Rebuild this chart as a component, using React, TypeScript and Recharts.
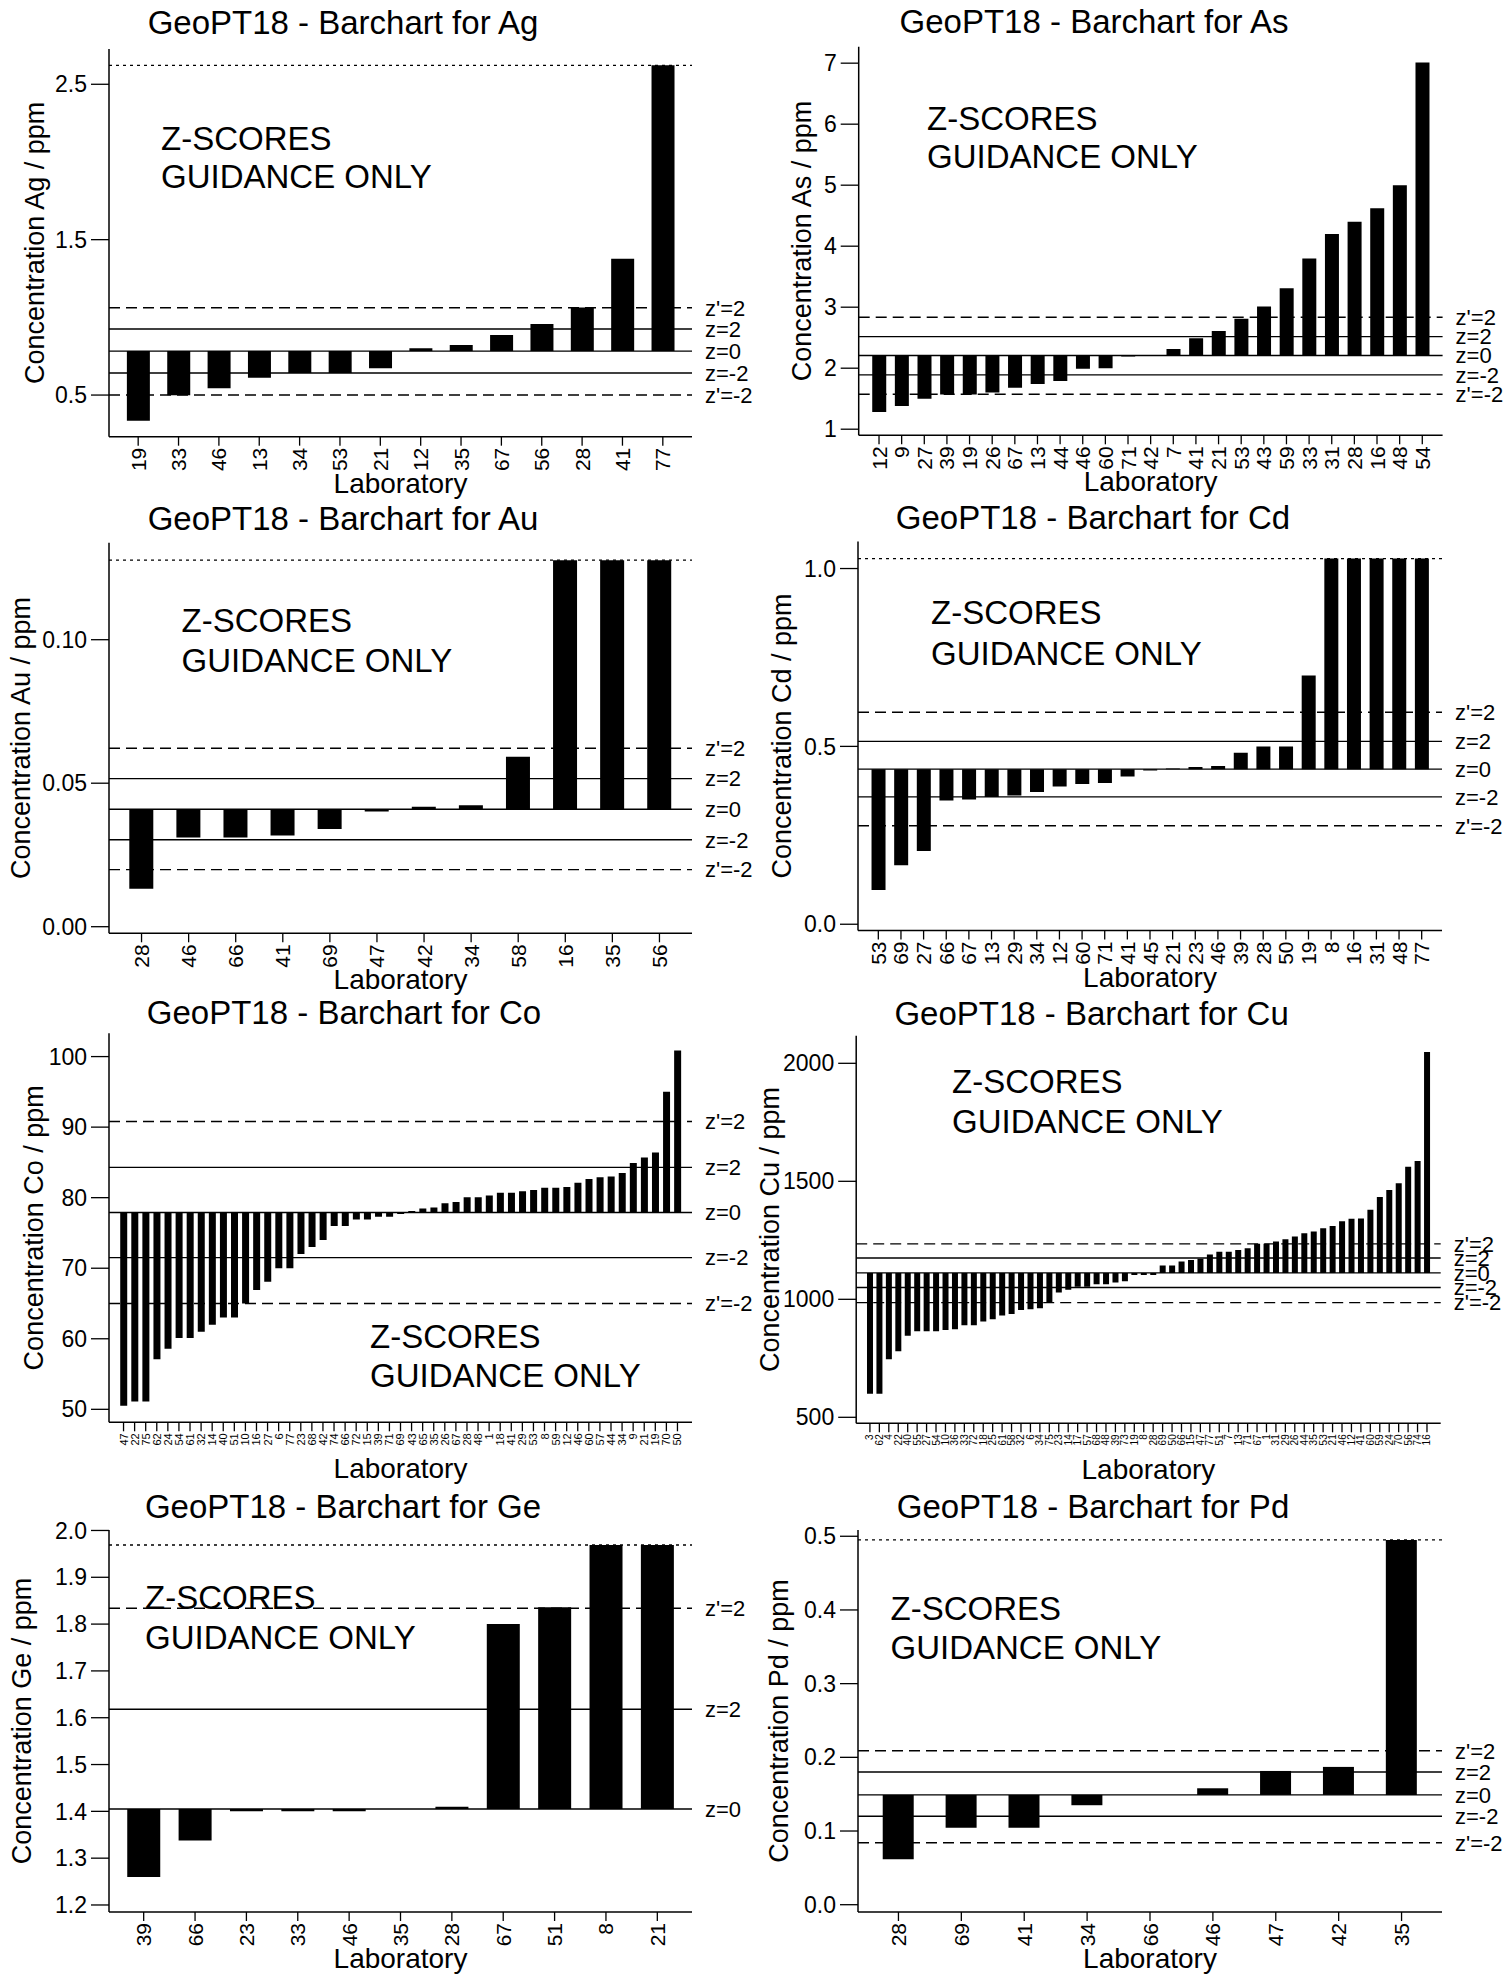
import React from 'react';
import { BarChart, Bar, XAxis, YAxis, ReferenceLine } from 'recharts';

// ---------- data ----------
const agLabs = ['19', '33', '46', '13', '34', '53', '21', '12', '35', '67', '56', '28', '41', '77'];
const agVals = [0.335, 0.498, 0.543, 0.611, 0.642, 0.642, 0.672, 0.801, 0.822, 0.886, 0.957, 1.064, 1.377, 2.622];
const agZ = [0.5, 0.642, 0.783, 0.925, 1.062];
const agTicks = [0.5, 1.5, 2.5];

const asLabs = ['12', '9', '27', '39', '19', '26', '67', '13', '44', '46', '60', '71', '42', '7', '41', '21', '53', '43', '59', '33', '31', '28', '16', '48', '54'];
const asVals = [1.28, 1.38, 1.5, 1.57, 1.57, 1.6, 1.68, 1.74, 1.79, 1.99, 2.0, 2.19, 2.205, 2.316, 2.49, 2.61, 2.81, 3.01, 3.31, 3.8, 4.2, 4.4, 4.62, 5.0, 7.01];
const asZ = [1.574, 1.89, 2.207, 2.518, 2.836];
const asTicks = [1, 2, 3, 4, 5, 6, 7];

const auLabs = ['28', '46', '66', '41', '69', '47', '42', '34', '58', '16', '35', '56'];
const auVals = [0.0132, 0.0311, 0.0311, 0.0318, 0.034, 0.0401, 0.0418, 0.0423, 0.0592, 0.1277, 0.1277, 0.1277];
const auZ = [0.0199, 0.0303, 0.0409, 0.0516, 0.0622];
const auTicks = [0, 0.05, 0.1];

const cdLabs = ['53', '69', '27', '66', '67', '13', '29', '34', '12', '60', '71', '41', '45', '21', '23', '46', '39', '28', '50', '19', '8', '16', '31', '48', '77'];
const cdVals = [0.096, 0.166, 0.206, 0.348, 0.351, 0.358, 0.362, 0.372, 0.387, 0.394, 0.397, 0.415, 0.432, 0.438, 0.442, 0.445, 0.482, 0.5, 0.5, 0.699, 1.028, 1.028, 1.028, 1.028, 1.028];
const cdZ = [0.277, 0.358, 0.436, 0.514, 0.596];
const cdTicks = [0, 0.5, 1.0];

const coLabs = ['47', '22', '75', '62', '24', '54', '61', '32', '14', '40', '51', '10', '16', '27', '6', '77', '23', '68', '42', '74', '66', '72', '15', '39', '71', '69', '43', '65', '35', '26', '67', '28', '48', '1', '18', '41', '29', '53', '8', '59', '12', '46', '60', '57', '44', '34', '9', '21', '19', '70', '50'];
const coVals = [50.5, 51.1, 51.1, 57.1, 58.6, 60.1, 60.1, 61.0, 62.0, 63.0, 63.0, 65.0, 66.9, 68.1, 70.0, 70.0, 72.0, 73.0, 74.0, 76.0, 76.0, 76.9, 76.9, 77.3, 77.3, 77.7, 78.1, 78.45, 78.6, 79.2, 79.4, 80.05, 80.05, 80.3, 80.7, 80.7, 80.9, 81.1, 81.4, 81.4, 81.5, 82.1, 82.65, 82.9, 83.0, 83.5, 84.9, 85.7, 86.4, 95.0, 100.85];
const coZ = [65.0, 71.5, 77.9, 84.3, 90.8];
const coTicks = [50, 60, 70, 80, 90, 100];

const cuLabs = ['3', '62', '4', '22', '40', '55', '27', '54', '10', '36', '33', '72', '18', '25', '61', '58', '32', '6', '34', '75', '23', '14', '17', '57', '68', '48', '39', '73', '19', '8', '28', '69', '50', '66', '15', '47', '77', '51', '7', '13', '71', '67', '1', '31', '29', '26', '44', '35', '53', '21', '46', '12', '41', '60', '59', '24', '70', '56', '74', '16'];
const cuVals = [600, 600, 746, 780, 846, 865, 865, 865, 870, 873, 890, 890, 906, 915, 931, 938, 955, 958, 962, 986, 1029, 1040, 1053, 1053, 1064, 1064, 1071, 1077, 1103, 1103, 1103, 1143, 1143, 1160, 1167, 1172, 1190, 1202, 1202, 1209, 1216, 1235, 1235, 1245, 1255, 1266, 1280, 1287, 1301, 1311, 1331, 1341, 1342, 1379, 1433, 1463, 1492, 1562, 1586, 2048];
const cuZ = [986, 1050, 1112, 1175, 1235];
const cuTicks = [500, 1000, 1500, 2000];

const geLabs = ['39', '66', '23', '33', '46', '35', '28', '67', '51', '8', '21'];
const geVals = [1.26, 1.338, 1.4, 1.4, 1.4, 1.405, 1.41, 1.8, 1.836, 1.969, 1.969];
const geZ = [null, null, 1.405, 1.618, 1.834];
const geTicks = [1.2, 1.3, 1.4, 1.5, 1.6, 1.7, 1.8, 1.9, 2.0];

const pdLabs = ['28', '69', '41', '34', '66', '46', '47', '42', '35'];
const pdVals = [0.0617, 0.1045, 0.1045, 0.135, 0.149, 0.158, 0.1815, 0.187, 0.495];
const pdZ = [0.084, 0.12, 0.149, 0.18, 0.209];
const pdTicks = [0, 0.1, 0.2, 0.3, 0.4, 0.5];

const zNames = ["z'=-2", 'z=-2', 'z=0', 'z=2', "z'=2"];

// ---------- layout ----------
const FONT = '"Liberation Sans", Arial, Helvetica, sans-serif';

type Cfg = {
  el: string;
  labs: string[];
  vals: number[];
  z: (number | null)[];
  top: number | null;
  ticks: number[];
  dec: number;
  domain: [number, number];
  rect: [number, number, number, number];
  col: number;
  row: number;
  ylabX: number;
  titleCx: number;
  titleBase: number;
  zs: [number, number, number];
  xfs: number;
  gap: string;
};

const panels: Cfg[] = [
  { el: 'Ag', labs: agLabs, vals: agVals, z: agZ, top: agVals[agVals.length - 1], ticks: agTicks, dec: 1, domain: [0.232, 2.727], rect: [109, 49, 692, 436.7], col: 0, row: 0, ylabX: 35, titleCx: 343, titleBase: 34, zs: [161, 150, 188.3], xfs: 21, gap: '22%' },
  { el: 'As', labs: asLabs, vals: asVals, z: asZ, top: null, ticks: asTicks, dec: 0, domain: [0.9, 7.27], rect: [858.7, 46.7, 1442.6, 435.3], col: 753, row: 0, ylabX: 802, titleCx: 1094, titleBase: 33, zs: [927, 130, 168], xfs: 21, gap: '20%' },
  { el: 'Au', labs: auLabs, vals: auVals, z: auZ, top: auVals[auVals.length - 1], ticks: auTicks, dec: 2, domain: [-0.0023, 0.1338], rect: [109, 542.7, 692, 933.3], col: 0, row: 494, ylabX: 21, titleCx: 343, titleBase: 530, zs: [181.5, 631.7, 671.7], xfs: 21, gap: '24%' },
  { el: 'Cd', labs: cdLabs, vals: cdVals, z: cdZ, top: cdVals[cdVals.length - 1], ticks: cdTicks, dec: 1, domain: [-0.0176, 1.076], rect: [858, 541.5, 1442, 930.5], col: 753, row: 494, ylabX: 782, titleCx: 1093, titleBase: 529, zs: [931, 624, 665], xfs: 21, gap: '20%' },
  { el: 'Co', labs: coLabs, vals: coVals, z: coZ, top: null, ticks: coTicks, dec: 0, domain: [48.16, 103.3], rect: [109, 1033.3, 692, 1422.3], col: 0, row: 988, ylabX: 34, titleCx: 344, titleBase: 1024, zs: [370, 1348, 1386.7], xfs: 11, gap: '20%' },
  { el: 'Cu', labs: cuLabs, vals: cuVals, z: cuZ, top: null, ticks: cuTicks, dec: 0, domain: [474.6, 2117], rect: [856.2, 1035.7, 1440.7, 1423.3], col: 753, row: 988, ylabX: 770, titleCx: 1091.6, titleBase: 1024.7, zs: [952, 1093.3, 1133.3], xfs: 10, gap: '19%' },
  { el: 'Ge', labs: geLabs, vals: geVals, z: geZ, top: geVals[geVals.length - 1], ticks: geTicks, dec: 1, domain: [1.185, 2.001], rect: [109, 1530, 692, 1912], col: 0, row: 1482, ylabX: 22, titleCx: 343, titleBase: 1518, zs: [145, 1609, 1648.5], xfs: 21, gap: '18%' },
  { el: 'Pd', labs: pdLabs, vals: pdVals, z: pdZ, top: pdVals[pdVals.length - 1], ticks: pdTicks, dec: 1, domain: [-0.0099, 0.5085], rect: [858, 1530, 1442, 1912], col: 753, row: 1482, ylabX: 779, titleCx: 1093, titleBase: 1518, zs: [890.5, 1619.5, 1658.6], xfs: 21, gap: '25%' },
];

const CW = 753;
const CH = 512;
const YW = 80;
const XH = 62;

function makeTick(fs: number) {
  return (props: any) => {
    const { x, y, payload } = props;
    return (
      <text
        x={x}
        y={y}
        transform={`rotate(-90, ${x}, ${y})`}
        textAnchor="end"
        dominantBaseline="central"
        fontSize={fs}
        fontFamily={FONT}
        fill="#000"
      >
        {payload.value}
      </text>
    );
  };
}

function Panel({ c }: { c: Cfg }) {
  const [pl, pt, pr, pb] = c.rect;
  const margin = {
    top: pt - c.row,
    right: c.col + CW - pr,
    left: pl - c.col - YW,
    bottom: CH - (pb - c.row) - XH,
  };
  const z0 = c.z[2] as number;
  const data = c.labs.map((lab, i) => ({ lab, v: [Math.min(c.vals[i], z0), Math.max(c.vals[i], z0)] }));
  return (
    <div style={{ position: 'absolute', left: c.col, top: c.row }}>
      <BarChart width={CW} height={CH} data={data} margin={margin} barCategoryGap={c.gap}>
        <XAxis
          dataKey="lab"
          type="category"
          interval={0}
          padding={{ left: 9, right: 9 }}
          height={XH}
          tickSize={9}
          tickMargin={2}
          tick={makeTick(c.xfs)}
          tickLine={{ stroke: '#000', strokeWidth: 1.3 }}
          axisLine={{ stroke: '#000', strokeWidth: 1.5 }}
        />
        <XAxis xAxisId="t" orientation="top" dataKey="lab" height={0} tick={false} tickLine={false} axisLine={{ stroke: '#000', strokeWidth: 1.5 }} />
        <YAxis
          type="number"
          domain={c.domain}
          allowDataOverflow
          ticks={c.ticks}
          width={YW}
          tickSize={18}
          tickMargin={4}
          tickFormatter={(v: number) => v.toFixed(c.dec)}
          tick={{ fontSize: 23, fill: '#000', fontFamily: FONT }}
          tickLine={{ stroke: '#000', strokeWidth: 1.3 }}
          axisLine={{ stroke: '#000', strokeWidth: 1.5 }}
        />
        <YAxis yAxisId="r" orientation="right" width={0} domain={c.domain} tick={false} tickLine={false} axisLine={{ stroke: '#000', strokeWidth: 1.5 }} />
        {c.top !== null && (
          <ReferenceLine y={c.top} stroke="#000" strokeWidth={1.3} strokeDasharray="3 4" ifOverflow="extendDomain" />
        )}
        {c.z.map((zv, i) =>
          zv === null ? null : (
            <ReferenceLine
              key={i}
              y={zv}
              stroke="#000"
              strokeWidth={1.4}
              strokeDasharray={i === 0 || i === 4 ? '11 6' : undefined}
              label={{ value: zNames[i], position: 'right', offset: 13, fontSize: 22, fill: '#000', fontFamily: FONT }}
            />
          )
        )}
        <Bar dataKey="v" fill="#000" isAnimationActive={false} />
      </BarChart>
    </div>
  );
}

function Overlay() {
  return (
    <svg width={1506} height={1977} style={{ position: 'absolute', left: 0, top: 0, pointerEvents: 'none' }}>
      {panels.map((c) => {
        const [pl, pt, pr, pb] = c.rect;
        return (
          <g key={c.el} fontFamily={FONT} fill="#000">
            <text x={c.titleCx} y={c.titleBase} textAnchor="middle" fontSize={33}>
              {`GeoPT18 - Barchart for ${c.el}`}
            </text>
            <text
              transform={`translate(${c.ylabX}, ${(pt + pb) / 2}) rotate(-90)`}
              textAnchor="middle"
              dominantBaseline="central"
              fontSize={27}
            >
              {`Concentration ${c.el} / ppm`}
            </text>
            <text x={(pl + pr) / 2} y={pb + 56} textAnchor="middle" fontSize={28}>
              Laboratory
            </text>
            <text x={c.zs[0]} y={c.zs[1]} fontSize={33}>
              Z-SCORES
            </text>
            <text x={c.zs[0]} y={c.zs[2]} fontSize={33}>
              GUIDANCE ONLY
            </text>
          </g>
        );
      })}
    </svg>
  );
}

export default function App() {
  return (
    <div style={{ position: 'absolute', left: 0, top: 0, width: 1506, height: 1977, background: '#fff', overflow: 'hidden' }}>
      {panels.map((c) => (
        <Panel key={c.el} c={c} />
      ))}
      <Overlay />
    </div>
  );
}
